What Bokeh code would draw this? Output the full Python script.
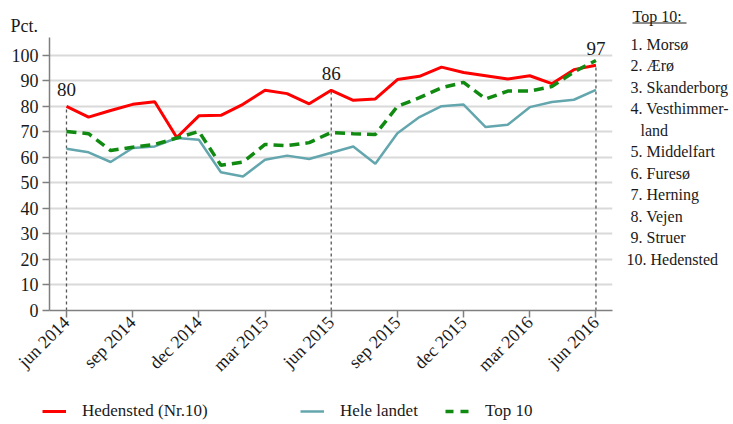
from bokeh.plotting import figure
from bokeh.layouts import row, column
from bokeh.models import Legend, LegendItem, FixedTicker, Range1d, ColumnDataSource
from bokeh.embed import file_html
from bokeh.resources import INLINE
from bokeh.core.properties import value

# ---------------- data ----------------
months = ["jun 2014", "jul 2014", "aug 2014", "sep 2014", "okt 2014", "nov 2014",
          "dec 2014", "jan 2015", "feb 2015", "mar 2015", "apr 2015", "maj 2015",
          "jun 2015", "jul 2015", "aug 2015", "sep 2015", "okt 2015", "nov 2015",
          "dec 2015", "jan 2016", "feb 2016", "mar 2016", "apr 2016", "maj 2016",
          "jun 2016"]
hedensted = [80.0, 75.8, 78.4, 80.8, 81.8, 67.8, 76.3, 76.5, 80.8, 86.3, 85.0, 81.0,
             86.3, 82.4, 82.9, 90.5, 91.8, 95.4, 93.3, 92.0, 90.7, 92.0, 88.9, 94.4, 96.1]
hele_landet = [63.4, 62.0, 58.2, 63.7, 64.3, 67.6, 66.9, 54.2, 52.5, 59.1, 60.7, 59.4,
               61.8, 64.3, 57.5, 69.5, 75.8, 80.1, 80.7, 71.9, 72.8, 79.7, 81.7, 82.6, 86.5]
top10 = [70.2, 69.3, 62.7, 64.0, 65.1, 67.6, 70.2, 56.9, 58.2, 65.1, 64.6, 65.8,
         69.8, 69.3, 69.0, 80.0, 83.4, 87.3, 89.4, 82.9, 86.0, 86.0, 87.8, 93.5, 98.0]
marked_months = ["jun 2014", "jun 2015", "jun 2016"]
marked_labels = ["80", "86", "97"]
tick_months = ["jun 2014", "sep 2014", "dec 2014", "mar 2015", "jun 2015",
               "sep 2015", "dec 2015", "mar 2016", "jun 2016"]
y_ticks = [0, 10, 20, 30, 40, 50, 60, 70, 80, 90, 100]
top10_title = "Top 10:"
top10_list = ["1. Morsø", "2. Ærø", "3. Skanderborg", "4. Vesthimmer-", "land",
              "5. Middelfart", "6. Furesø", "7. Herning", "8. Vejen", "9. Struer",
              "10. Hedensted"]
series_names = ["Hedensted (Nr.10)", "Hele landet", "Top 10"]
y_unit = "Pct."

FONT = "Liberation Serif"
TXT = "#1a1a1a"
RED, TEAL, GREEN = "#ff0000", "#64a6ae", "#118a11"
x = list(range(len(months)))

# vertical layout: top strip 35px, then row (frame 37..310 in page coords), legend strip
STRIP = 35
TOP, FH, BOT = 2, 273, 80
W = 733

# ---------------- top strip ("Pct." and "Top 10:") ----------------
top = figure(width=W, height=STRIP, output_backend="svg", toolbar_location=None,
             min_border=0, x_range=Range1d(0, W), y_range=Range1d(STRIP, 0))
top.axis.visible = False
top.grid.visible = False
top.outline_line_color = None
top.text(x=[10, 632], y=[25, 16], text=[y_unit, top10_title],
         text_font=value(FONT), text_font_size=["18px", "16px"],
         text_baseline="middle", text_color=TXT)
top.segment(x0=[632], y0=[22.5], x1=[686], y1=[22.5], line_color=TXT, line_width=1)

# ---------------- main chart ----------------
p = figure(frame_width=563, frame_height=FH, output_backend="svg",
           toolbar_location=None, min_border_left=49, min_border_right=8,
           min_border_top=TOP, min_border_bottom=BOT,
           x_range=Range1d(-0.77, 24.75), y_range=Range1d(0, 107))
p.outline_line_color = None
p.border_fill_color = "white"

p.xaxis.ticker = FixedTicker(ticks=[months.index(m) for m in tick_months])
p.xaxis.major_label_overrides = {months.index(m): m for m in tick_months}
p.xaxis.major_label_orientation = 0.785398
p.yaxis.ticker = FixedTicker(ticks=y_ticks)
for ax in (p.xaxis[0], p.yaxis[0]):
    ax.axis_line_color = "#7f7f7f"
    ax.axis_line_width = 1.5
    ax.major_tick_line_color = "#7f7f7f"
    ax.major_tick_line_width = 1.5
    ax.major_tick_out = 7
    ax.major_tick_in = 0
    ax.minor_tick_line_color = None
    ax.major_label_text_font = FONT
    ax.major_label_text_font_size = "18px"
    ax.major_label_text_color = TXT
p.yaxis.major_label_standoff = 4
p.xaxis.major_label_standoff = 2
p.xgrid.grid_line_color = None
p.ygrid.grid_line_color = "#d9d9d9"
p.ygrid.grid_line_width = 2

mi = [months.index(m) for m in marked_months]
p.segment(x0=mi, y0=[0] * len(mi), x1=mi, y1=[hedensted[i] for i in mi],
          line_color="#555555", line_width=1.3, line_dash="3 3")

p.line(x, hele_landet, line_color=TEAL, line_width=2.5)
p.line(x, hedensted, line_color=RED, line_width=3)
p.line(x, top10, line_color=GREEN, line_width=3.5, line_dash="10 6")

src = ColumnDataSource(dict(x=mi, y=[hedensted[i] for i in mi], t=marked_labels))
p.text(x="x", y="y", text="t", source=src, text_align="center",
       text_baseline="bottom", y_offset=-10, text_font=value(FONT),
       text_font_size="19px", text_color=TXT)

# ---------------- right-hand list ----------------
SW = 113
PAGE_TOP = STRIP + TOP  # page y of the frame top
s = figure(frame_width=SW, frame_height=FH, output_backend="svg",
           toolbar_location=None, min_border_left=0, min_border_right=0,
           min_border_top=TOP, min_border_bottom=BOT,
           x_range=Range1d(0, SW), y_range=Range1d(PAGE_TOP + FH, PAGE_TOP))
s.axis.visible = False
s.grid.visible = False
s.outline_line_color = None
s.border_fill_color = "white"
n = len(top10_list)
lx = [20 if not item[0].isdigit() else (6 if item.startswith("10") else 10)
      for item in top10_list]
ly = [43.5 + 21.5 * i for i in range(n)]
s.text(x=lx, y=ly, text=top10_list, text_font=value(FONT),
       text_font_size="16px", text_baseline="middle", text_color=TXT)

# ---------------- bottom legend ----------------
LH = 34
lg = figure(width=W, height=LH, output_backend="svg", toolbar_location=None,
            min_border=0, x_range=Range1d(1000, 1001), y_range=Range1d(1000, 1001))
lg.axis.visible = False
lg.grid.visible = False
lg.outline_line_color = None
r1 = lg.line(x, hedensted, line_color=RED, line_width=3)
r2 = lg.line(x, hele_landet, line_color=TEAL, line_width=2.5)
r3 = lg.line(x, top10, line_color=GREEN, line_width=3.5, line_dash="8 7")
for r, name, px in zip([r1, r2, r3], series_names, [42, 300, 445]):
    leg = Legend(items=[LegendItem(label=name, renderers=[r])],
                 location=(px, 3), orientation="horizontal",
                 glyph_width=24, glyph_height=16, label_height=16,
                 label_standoff=16, padding=0, margin=0,
                 border_line_color=None, background_fill_alpha=0,
                 label_text_font=FONT, label_text_font_size="17px",
                 label_text_color=TXT)
    lg.add_layout(leg, "center")

layout = column(top, row(p, s, spacing=0), lg, spacing=0)
open("out.html", "w").write(file_html(layout, INLINE))
